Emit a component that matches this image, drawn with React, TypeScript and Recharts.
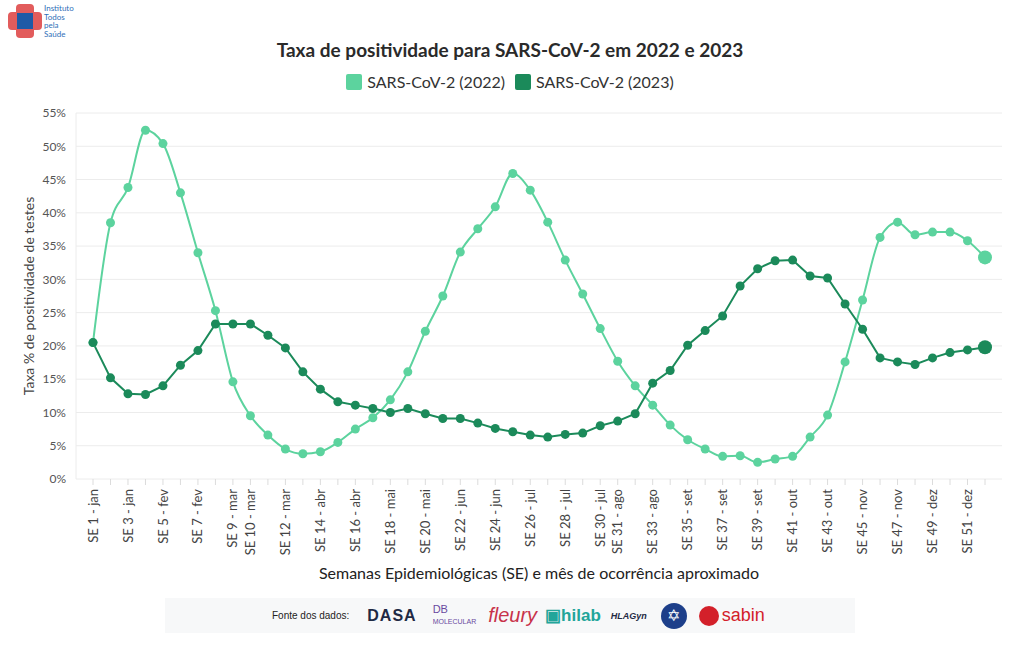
import { LineChart, Line, XAxis, YAxis, CartesianGrid } from 'recharts'

const weeks = [
  'SE 1 - jan', 'SE 2 - jan', 'SE 3 - jan', 'SE 4 - jan', 'SE 5 - fev', 'SE 6 - fev', 'SE 7 - fev', 'SE 8 - fev',
  'SE 9 - mar', 'SE 10 - mar', 'SE 11 - mar', 'SE 12 - mar', 'SE 13 - mar', 'SE 14 - abr', 'SE 15 - abr', 'SE 16 - abr',
  'SE 17 - abr', 'SE 18 - mai', 'SE 19 - mai', 'SE 20 - mai', 'SE 21 - mai', 'SE 22 - jun', 'SE 23 - jun', 'SE 24 - jun',
  'SE 25 - jun', 'SE 26 - jul', 'SE 27 - jul', 'SE 28 - jul', 'SE 29 - jul', 'SE 30 - jul', 'SE 31 - ago', 'SE 32 - ago',
  'SE 33 - ago', 'SE 34 - ago', 'SE 35 - set', 'SE 36 - set', 'SE 37 - set', 'SE 38 - set', 'SE 39 - set', 'SE 40 - out',
  'SE 41 - out', 'SE 42 - out', 'SE 43 - out', 'SE 44 - nov', 'SE 45 - nov', 'SE 46 - nov', 'SE 47 - nov', 'SE 48 - nov',
  'SE 49 - dez', 'SE 50 - dez', 'SE 51 - dez', 'SE 52 - dez',
]

// labels that are actually printed under the axis
const shownWeeks = [
  'SE 1 - jan', 'SE 3 - jan', 'SE 5 - fev', 'SE 7 - fev', 'SE 9 - mar', 'SE 10 - mar', 'SE 12 - mar', 'SE 14 - abr',
  'SE 16 - abr', 'SE 18 - mai', 'SE 20 - mai', 'SE 22 - jun', 'SE 24 - jun', 'SE 26 - jul', 'SE 28 - jul', 'SE 30 - jul',
  'SE 31 - ago', 'SE 33 - ago', 'SE 35 - set', 'SE 37 - set', 'SE 39 - set', 'SE 41 - out', 'SE 43 - out', 'SE 45 - nov',
  'SE 47 - nov', 'SE 49 - dez', 'SE 51 - dez',
]

const pos2022 = [
  20.5, 38.5, 43.8, 52.4, 50.4, 43.0, 34.0, 25.3, 14.6, 9.5, 6.6, 4.5, 3.8, 4.1, 5.5, 7.5,
  9.2, 11.9, 16.1, 22.2, 27.5, 34.1, 37.6, 40.9, 45.9, 43.4, 38.6, 32.9, 27.8, 22.6, 17.7, 14.0,
  11.1, 8.1, 5.9, 4.5, 3.4, 3.5, 2.5, 3.0, 3.4, 6.3, 9.6, 17.6, 26.9, 36.3, 38.6, 36.7,
  37.1, 37.1, 35.8, 33.3,
]

const pos2023 = [
  20.5, 15.2, 12.8, 12.7, 14.0, 17.1, 19.3, 23.3, 23.3, 23.3, 21.6, 19.7, 16.1, 13.5, 11.6, 11.1,
  10.6, 10.0, 10.6, 9.8, 9.1, 9.1, 8.4, 7.6, 7.1, 6.6, 6.3, 6.7, 6.9, 8.0, 8.7, 9.8,
  14.4, 16.3, 20.1, 22.3, 24.5, 29.0, 31.6, 32.8, 32.9, 30.5, 30.2, 26.3, 22.5, 18.2, 17.6, 17.2,
  18.2, 19.0, 19.4, 19.8,
]

const yTicks = [0, 5, 10, 15, 20, 25, 30, 35, 40, 45, 50, 55]

const LIGHT = '#5cd39e'
const DARK = '#1b8a5a'
const FONT = 'Lato, "Noto Sans", sans-serif'

const data = weeks.map((w, i) => ({ label: w, y2022: pos2022[i], y2023: pos2023[i] }))

const XTick = (props: any) => {
  const { x, y, payload } = props
  if (!shownWeeks.includes(payload.value)) return <g />
  return (
    <text
      x={x}
      y={y + 2}
      transform={`rotate(-90 ${x} ${y + 2})`}
      textAnchor="end"
      dy="0.35em"
      fontSize={13}
      fontFamily={FONT}
      fill="#444"
    >
      {payload.value}
    </text>
  )
}

const makeDot = (color: string) => (props: any) => {
  const { cx, cy, index } = props
  const r = index === weeks.length - 1 ? 7 : 4.5
  return <circle key={index} cx={cx} cy={cy} r={r} fill={color} stroke="none" />
}

function Logo() {
  return (
    <div style={{ position: 'absolute', left: 8, top: 4, display: 'flex', alignItems: 'flex-start' }}>
      <svg width={34} height={34}>
        <rect x={0} y={8} width={34} height={18} rx={4} fill="#e25c5c" />
        <rect x={8} y={0} width={18} height={34} rx={4} fill="#e25c5c" />
        <rect x={9} y={9} width={16} height={16} fill="#1f5aa6" />
      </svg>
      <div style={{ marginLeft: 2, fontFamily: FONT, fontSize: 8, lineHeight: '8.5px', color: '#2f6fb8' }}>
        Instituto<br />Todos<br />pela<br />Saúde
      </div>
    </div>
  )
}

function Footer() {
  return (
    <div
      style={{
        position: 'absolute', left: 165, top: 598, width: 690, height: 35, background: '#f7f8f9',
        display: 'flex', alignItems: 'center', fontFamily: 'Arial, "Liberation Sans", sans-serif',
      }}
    >
      <span style={{ marginLeft: 107, fontSize: 10, color: '#222' }}>Fonte dos dados:</span>
      <span style={{ marginLeft: 18, fontSize: 16, fontWeight: 700, color: '#1f2a44', letterSpacing: 1 }}>DASA</span>
      <span style={{ marginLeft: 16, fontSize: 11, color: '#6a4aa0', lineHeight: '11px' }}>
        DB<br /><span style={{ fontSize: 7 }}>MOLECULAR</span>
      </span>
      <span style={{ marginLeft: 12, fontSize: 20, fontStyle: 'italic', color: '#c8324a' }}>fleury</span>
      <span style={{ marginLeft: 8, fontSize: 17, fontWeight: 700, color: '#22a59a' }}>▣hilab</span>
      <span style={{ marginLeft: 10, fontSize: 9, fontWeight: 700, fontStyle: 'italic', color: '#1f2a44' }}>HLAGyn</span>
      <span
        style={{
          marginLeft: 14, width: 26, height: 26, borderRadius: 13, background: '#1d3f8a', color: '#fff',
          display: 'inline-flex', alignItems: 'center', justifyContent: 'center', fontSize: 16,
        }}
      >
        ✡
      </span>
      <span style={{ marginLeft: 12, display: 'inline-block', width: 20, height: 20, borderRadius: 10, background: '#d3202a' }} />
      <span style={{ marginLeft: 3, fontSize: 18, color: '#d3202a' }}>sabin</span>
    </div>
  )
}

export default function App() {
  return (
    <div style={{ position: 'fixed', left: 0, top: 0, width: 1020, height: 650, background: '#fff', fontFamily: FONT }}>
      <Logo />
      <div style={{ position: 'absolute', left: 0, top: 38, width: 1020, textAlign: 'center', fontSize: 19, fontWeight: 700, color: '#2a2a2a' }}>
        Taxa de positividade para SARS-CoV-2 em 2022 e 2023
      </div>
      <div style={{ position: 'absolute', left: 0, top: 72, width: 1020, display: 'flex', justifyContent: 'center', alignItems: 'center', fontSize: 16, color: '#333' }}>
        <span style={{ width: 16, height: 16, borderRadius: 2, background: LIGHT, marginRight: 5 }} />
        <span>SARS-CoV-2 (2022)</span>
        <span style={{ width: 16, height: 16, borderRadius: 2, background: DARK, marginLeft: 10, marginRight: 5 }} />
        <span>SARS-CoV-2 (2023)</span>
      </div>
      <div
        style={{
          position: 'absolute', left: 28, top: 296, transform: 'translate(-50%, -50%) rotate(-90deg)',
          whiteSpace: 'nowrap', fontSize: 14, color: '#444',
        }}
      >
        Taxa % de positividade de testes
      </div>
      <div style={{ position: 'absolute', left: 76, top: 563, width: 926, textAlign: 'center', fontSize: 16, color: '#222' }}>
        Semanas Epidemiológicas (SE) e mês de ocorrência aproximado
      </div>
      <div style={{ position: 'absolute', left: 0, top: 0 }}>
        <LineChart width={1020} height={650} data={data} margin={{ top: 113, right: 18, bottom: 71, left: 16 }}>
          <CartesianGrid vertical={false} stroke="#ececec" />
          <XAxis
            dataKey="label"
            interval={0}
            axisLine={false}
            tickSize={6}
            tickLine={{ stroke: '#dcdcdc' }}
            height={100}
            padding={{ left: 17, right: 17 }}
            tick={<XTick />}
          />
          <YAxis
            width={60}
            domain={[0, 55]}
            ticks={yTicks}
            tickFormatter={(v: number) => `${v}%`}
            tickLine={false}
            tickMargin={4}
            axisLine={{ stroke: '#ececec' }}
            tick={{ fontSize: 12, fill: '#555', fontFamily: FONT }}
          />
          <Line
            type="monotone"
            dataKey="y2022"
            stroke={LIGHT}
            strokeWidth={2}
            dot={makeDot(LIGHT)}
            isAnimationActive={false}
          />
          <Line
            type="linear"
            dataKey="y2023"
            stroke={DARK}
            strokeWidth={2}
            dot={makeDot(DARK)}
            isAnimationActive={false}
          />
        </LineChart>
      </div>
      <Footer />
    </div>
  )
}
